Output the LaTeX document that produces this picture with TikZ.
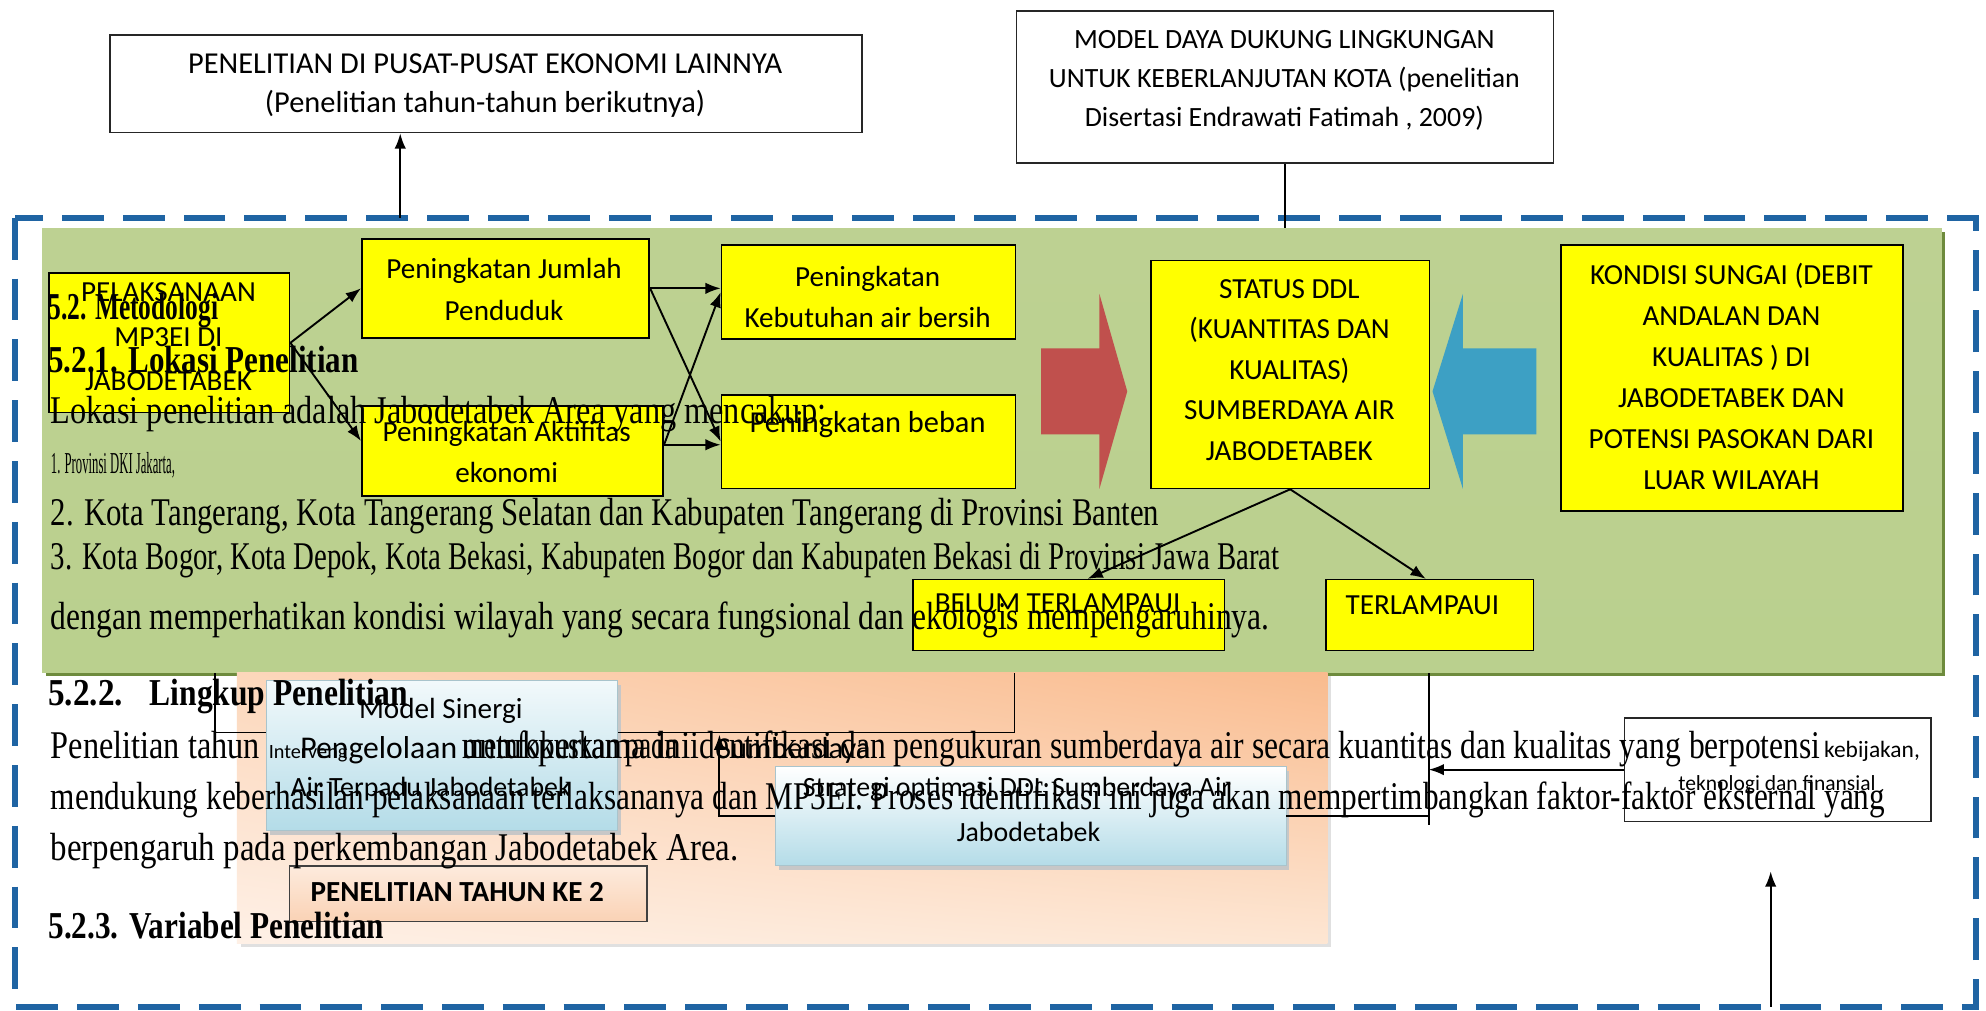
\documentclass[tikz,border=0pt]{standalone}
\usepackage{fontspec}
\usepackage{graphicx}
\setmainfont{Liberation Serif}
\newfontfamily\dg{Carlito}
\usetikzlibrary{arrows.meta,shadings}

\definecolor{boxyellow}{HTML}{FFFF00}
\definecolor{gTop}{HTML}{BDD192}
\definecolor{gMid}{HTML}{93B352}
\definecolor{gBot}{HTML}{BAD08E}
\definecolor{gShadow}{HTML}{6E8B3D}
\definecolor{dashblue}{HTML}{1F64A3}
\definecolor{pUL}{HTML}{FCD7BB}
\definecolor{pUR}{HTML}{F9BB8E}
\definecolor{pLL}{HTML}{FEF0E6}
\definecolor{pLR}{HTML}{FDE6D3}
\definecolor{redDark}{HTML}{C0504D}
\definecolor{redLight}{HTML}{E8807D}
\definecolor{blueDark}{HTML}{3DA0C4}
\definecolor{blueLight}{HTML}{93D3E8}
\definecolor{blTop}{HTML}{F2F9FB}
\definecolor{blBot}{HTML}{B4DCE8}
\definecolor{blEdge}{HTML}{A9C4CC}
\definecolor{ptTop}{HTML}{FDEBDD}
\definecolor{ptBot}{HTML}{FAD2B5}

% width-fitted line of text, natural height kept
\newcommand{\fitw}[2]{\resizebox{#1}{\height}{#2}}

\begin{document}
\begin{tikzpicture}[x=1pt,y=-1pt,
  ybox/.style={draw=black, line width=1.3pt, fill=boxyellow, inner sep=0pt, anchor=north west},
  wbox/.style={draw=black!85, line width=1.3pt, fill=white, inner sep=0pt, anchor=north west},
  dtext/.style={font=\dg\fontsize{23}{32}\selectfont, align=center, inner sep=0pt},
  stext/.style={font=\dg\fontsize{17}{20}\selectfont, inner sep=0pt},
  ln/.style={draw=black, line width=1.5pt},
  arr/.style={ln, -{Latex[length=12pt,width=9pt]}},
  body/.style={font=\fontsize{31}{34}\selectfont, anchor=base west, inner sep=0pt},
  head/.style={font=\bfseries\fontsize{30}{34}\selectfont, anchor=base west, inner sep=0pt},
]
\useasboundingbox (0,0) rectangle (1568,798);
\fill[white] (0,0) rectangle (1568,798);

% outer dashed frame
\draw[dashblue, line width=4.5pt, dash pattern=on 33pt off 15pt] (12,172) rectangle (1560,795);

% green panel with its shadow
\fill[gShadow] (36,183) rectangle (1536,534);
\node[anchor=north west, inner sep=0pt, minimum width=1500pt, minimum height=351pt,
      top color=gTop, middle color=gMid, bottom color=gBot] (grn) at (33,180) {};

% peach panel
\fill[black!12] (190,534) rectangle (1051,748);
\shade[upper left=pUL, upper right=pUR, lower left=pLL, lower right=pLR] (187,531) rectangle (1048,745);

% top boxes
\node[wbox, minimum width=594pt, minimum height=77pt] (tl) at (86,27) {};
\node[dtext, font=\dg\fontsize{24}{31}\selectfont] (tl-t) at (383,67.5) {PENELITIAN DI PUSAT-PUSAT EKONOMI LAINNYA\\(Penelitian tahun-tahun berikutnya)};
\node[wbox, minimum width=424pt, minimum height=120pt] (tr) at (802,8) {};
\node[dtext, font=\dg\fontsize{22}{30.5}\selectfont] (tr-t) at (1014,63.5) {MODEL DAYA DUKUNG LINGKUNGAN\\UNTUK KEBERLANJUTAN KOTA (penelitian\\Disertasi Endrawati Fatimah , 2009)};

% yellow boxes
\node[ybox, minimum width=190pt, minimum height=110pt] (pel) at (38,215) {};
\node[ybox, minimum width=227pt, minimum height=78pt] (jum) at (285,188) {};
\node[ybox, minimum width=238pt, minimum height=71pt] (akt) at (285,320) {};
\node[ybox, minimum width=232pt, minimum height=74pt] (keb) at (569,193) {};
\node[ybox, minimum width=232pt, minimum height=74pt] (beb) at (569,311) {};
\node[ybox, minimum width=220pt, minimum height=180pt] (sta) at (908,205) {};
\node[ybox, minimum width=270pt, minimum height=210pt] (kon) at (1232,193) {};
\node[ybox, minimum width=246pt, minimum height=56pt] (bel) at (720,457) {};
\node[ybox, minimum width=164pt, minimum height=56pt] (ter) at (1046,457) {};

\node[dtext, font=\dg\fontsize{23}{35}\selectfont] (pel-t) at (133,266) {PELAKSANAAN\\MP3EI DI\\JABODETABEK};
\node[dtext, font=\dg\fontsize{23}{33}\selectfont] (jum-t) at (398,228.5) {Peningkatan Jumlah\\Penduduk};
\node[dtext] (akt-t) at (400,357) {Peningkatan Aktifitas\\ekonomi};
\node[dtext, font=\dg\fontsize{23}{33}\selectfont] (keb-t) at (685,234.5) {Peningkatan\\Kebutuhan air bersih};
\node[dtext, font=\dg\fontsize{24}{30}\selectfont] (beb-t) at (685,335) {Peningkatan beban};
\node[dtext, font=\dg\fontsize{23}{32}\selectfont] (sta-t) at (1018,292) {STATUS DDL\\(KUANTITAS DAN\\KUALITAS)\\SUMBERDAYA AIR\\JABODETABEK};
\node[dtext, font=\dg\fontsize{23}{32.4}\selectfont] (kon-t) at (1367,297) {KONDISI SUNGAI (DEBIT\\ANDALAN DAN\\KUALITAS ) DI\\JABODETABEK DAN\\POTENSI PASOKAN DARI\\LUAR WILAYAH};
\node[dtext] (bel-t) at (835,476) {BELUM TERLAMPAUI};
\node[dtext] (ter-t) at (1123,478) {TERLAMPAUI};

% block arrows
\shade[top color=redDark, middle color=redLight, bottom color=redDark]
  (822,275) -- (868,275) -- (868,232) -- (890,309) -- (868,386) -- (868,343) -- (822,343) -- cycle;
\shade[top color=blueDark, middle color=blueLight, bottom color=blueDark]
  (1213,275) -- (1155,275) -- (1155,232) -- (1131,309) -- (1155,386) -- (1155,343) -- (1213,343) -- cycle;

% connectors in the green panel
\draw[arr] (pel.east) -- (jum.west);
\draw[arr] (pel.east) -- ([yshift=8pt]akt.west);
\draw[arr] (jum.east) -- (jum.east -| keb.west);
\draw[arr] (jum.east) -- (beb.west);
\draw[arr] ([yshift=5pt]akt.east) -- ([yshift=5pt]akt.east -| beb.west);
\draw[arr] ([yshift=5pt]akt.east) -- (keb.west);
\draw[arr] (sta.south) -- ([xshift=15pt]bel.north);
\draw[arr] (sta.south) -- ([xshift=-3pt]ter.north);

% top connectors
\coordinate (upA) at (316,172);
\draw[arr] (upA) -- (upA |- tl.south);
\draw[ln] (tr.south) -- (tr.south |- grn.north);

% lower boxes
\fill[black!22] (213,541) rectangle (490,659);
\node[anchor=north west, inner sep=0pt, minimum width=277pt, minimum height=118pt,
      top color=blTop, bottom color=blBot, draw=blEdge, line width=0.6pt] (mod) at (210,537) {};
\fill[black!22] (615,609) rectangle (1018,687);
\node[anchor=north west, inner sep=0pt, minimum width=403pt, minimum height=78pt,
      top color=white, bottom color=blBot, draw=blEdge, line width=0.6pt] (str) at (612,605) {};
\node[anchor=north west, inner sep=0pt, minimum width=282pt, minimum height=44pt,
      top color=ptTop, bottom color=ptBot, draw=black!75, line width=1.3pt] (ptk) at (228,683) {};
\node[wbox, minimum width=242pt, minimum height=82pt] (kbj) at (1282,566) {};

% connectors below the green panel
\coordinate (cA) at (170,0);
\coordinate (cB) at (801,0);
\coordinate (cC) at (568,580);
\coordinate (cD) at (1128,651);
\coordinate (cE) at (1398,795);
\coordinate (cF) at (1398,688);
\draw[ln] (grn.south -| cA) |- ([yshift=18pt]mod.west);
\draw[ln] (grn.south -| cB) |- ([yshift=18pt]mod.east);
\draw[arr] (str.west) -| (cC);
\draw[ln] (grn.south -| cD) -- (cD);
\draw[ln] (str.east) -- (str.east -| cD);
\draw[arr] (kbj.west) -- (kbj.west -| cD);
\draw[arr] (cE) -- (cF);

% texts of the lower boxes
\node[dtext, font=\dg\fontsize{23}{26}\selectfont] (mod-t1) at (348,561) {Model Sinergi};
\node[stext, font=\dg\fontsize{16}{20}\selectfont, anchor=base west] (mod-t2) at (212,599) {Interveng};
\node[dtext, font=\dg\fontsize{25}{28}\selectfont, anchor=base west] (mod-t3) at (237,599) {Pengelolaan};
\node[dtext, font=\dg\fontsize{24}{28}\selectfont, anchor=base west] (mod-t5) at (566,599) {Sumberdaya};
\node[dtext, font=\dg\fontsize{22}{26}\selectfont] (mod-t6) at (340,623) {Air Terpadu Jabodetabek};
\node[dtext, font=\dg\fontsize{22}{24}\selectfont] (str-t1) at (803,623) {Strategi optimasi DDL Sumberdaya Air};
\node[dtext, font=\dg\fontsize{22}{24}\selectfont] (str-t2) at (812,657) {Jabodetabek};
\node[dtext, font=\dg\bfseries\fontsize{23}{26}\selectfont] (ptk-t) at (361,704) {PENELITIAN TAHUN KE 2};
\node[stext, font=\dg\fontsize{18.5}{20}\selectfont, anchor=base west] (kbj-t1) at (1440,598) {kebijakan,};
\node[stext] (kbj-t2) at (1403,620) {teknologi dan finansial};

% running document text
\node[head] (h1) at (38,252) {\fitw{134pt}{5.2. Metodologi}};
\node[head] (h2) at (38,294) {\fitw{245pt}{5.2.1. Lokasi Penelitian}};
\node[body] (p1) at (40,334) {\fitw{612pt}{Lokasi penelitian adalah Jabodetabek Area yang mencakup:}};
\node[body, font=\fontsize{24}{26}\selectfont] (p2) at (40,374) {\fitw{98pt}{1. Provinsi DKI Jakarta,}};
\node[body] (p3) at (40,415) {\fitw{875pt}{2. Kota Tangerang, Kota Tangerang Selatan dan Kabupaten Tangerang di Provinsi Banten}};
\node[body] (p4) at (40,450) {\fitw{970pt}{3. Kota Bogor, Kota Depok, Kota Bekasi, Kabupaten Bogor dan Kabupaten Bekasi di Provinsi Jawa Barat}};
\node[body] (p5) at (40,497) {\fitw{962pt}{dengan memperhatikan kondisi wilayah yang secara fungsional dan ekologis mempengaruhinya.}};
\node[head] (h3a) at (38,557) {\fitw{59pt}{5.2.2.}};
\node[head] (h3b) at (118,557) {\fitw{204pt}{Lingkup Penelitian}};
\node[body] (p6a) at (40,599) {\fitw{165pt}{Penelitian tahun}};
\node[body] (p6b) at (365,599) {\fitw{170pt}{memfokuskan pada}};
\node[body] (p6c) at (365,599) {\fitw{180pt}{untukpertama ini}};
\node[body] (p6d) at (545,599) {\fitw{892pt}{identifikasi dan pengukuran sumberdaya air secara kuantitas dan kualitas yang berpotensi}};
\node[body] (p7) at (40,639) {\fitw{1448pt}{mendukung keberhasilan pelaksanaan terlaksananya dan MP3EI. Proses identifikasi ini juga akan mempertimbangkan faktor-faktor eksternal yang}};
\node[body] (p8) at (40,679) {\fitw{543pt}{berpengaruh pada perkembangan Jabodetabek Area.}};
\node[head] (h4) at (38,741) {\fitw{265pt}{5.2.3. Variabel Penelitian}};
\end{tikzpicture}
\end{document}
